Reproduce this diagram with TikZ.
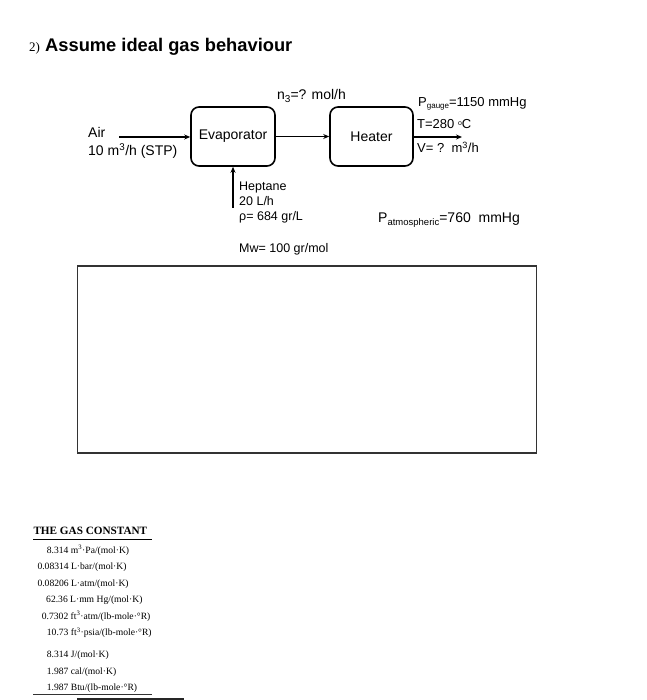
\documentclass[tikz,border=0pt]{standalone}
\usepackage{fontspec}
\setmainfont{Liberation Sans}
\newfontfamily\serifft{Liberation Serif}
\usetikzlibrary{arrows.meta}
\newcommand\fsz[1]{\fontsize{#1}{#1}\selectfont}
\begin{document}
\begin{tikzpicture}[x=1pt,y=-1pt,
  txt/.style={anchor=base west,inner sep=0pt},
  unit/.style={draw,line width=1.6pt,rounded corners=8pt,minimum width=84pt,minimum height=59pt,inner sep=0pt,font=\fsz{14}},
  flow/.style={line width=1.4pt,-{Stealth[length=6pt,width=5pt]}},
  lab/.style={txt,font=\fsz{14}},
  rlab/.style={txt,font=\fsz{13}},
  slab/.style={txt,font=\fsz{12.5}},
  gas/.style={txt,font=\serifft\fsz{9.6}}]
\useasboundingbox (0,0) rectangle (646,700);
% title
\node[txt,font=\serifft\fsz{13}] (num) at (29,51.7) {2)};
\node[txt,font=\bfseries\fsz{18.3}] (title) at (45,51.7) {Assume ideal gas behaviour};
% units
\node[unit] (evap) at (233,136.5) {Evaporator};
\node[unit,minimum width=83pt] (heat) at (371.5,136.5) {Heater};
\coordinate (airin) at (119,137);
\coordinate (out) at (462,137);
\coordinate (hep) at (233,208);
\draw[flow] (airin) -- (airin -| evap.west);
\draw[flow] (evap) -- (heat);
\draw[flow] (heat.east |- out) -- (out);
\draw[flow] (hep) -- (hep |- evap.south);
% labels
\node[lab] (air) at (88,138) {Air};
\node[lab] (airq) at (88,156) {10 m\textsuperscript{3}/h (STP)};
\node[lab] (n3) at (277,100) {n\raisebox{-2.5pt}{\fsz{10}3}=? mol/h};
\node[rlab] (pg) at (418,106.7) {P\raisebox{-2pt}{\fsz{8}gauge}=1150 mmHg};
\node[rlab] (tt) at (417,129) {T=280 \raisebox{3.5pt}{\fsz{7}o}C};
\node[rlab] (vv) at (417,152.5) {V= ?\ \ m\textsuperscript{3}/h};
\node[slab] (hp1) at (239,191) {Heptane};
\node[slab] (hp2) at (239,206) {20 L/h};
\node[slab] (hp3) at (239,220.5) {ρ= 684 gr/L};
\node[slab] (mw) at (239,252.3) {Mw= 100 gr/mol};
\node[lab] (patm) at (378,222.7) {P\raisebox{-2.5pt}{\fsz{9.5}atmospheric}=760\ \ mmHg};
% answer box
\node[draw=black!80,line width=1.4pt,minimum width=459pt,minimum height=187pt,inner sep=0pt] (answer) at (307,359.5) {};
% gas constant table
\node[txt,font=\serifft\bfseries\fsz{11.2}] (gct) at (33.3,534) {THE GAS CONSTANT};
\coordinate (ul1) at (33,539.5);
\coordinate (ul2) at (152,539.5);
\draw[line width=1.1pt] (ul1) -- (ul2);
\node[gas] (g1) at (46.7,553.3) {8.314 m\textsuperscript{3}·Pa/(mol·K)};
\node[gas] (g2) at (37.3,569.8) {0.08314 L·bar/(mol·K)};
\node[gas] (g3) at (37.3,586.2) {0.08206 L·atm/(mol·K)};
\node[gas] (g4) at (46,602.7) {62.36 L·mm Hg/(mol·K)};
\node[gas] (g5) at (41.7,619.4) {0.7302 ft\textsuperscript{3}·atm/(lb-mole·°R)};
\node[gas] (g6) at (46.7,635.8) {10.73 ft\textsuperscript{3}·psia/(lb-mole·°R)};
\node[gas] (g7) at (46.7,657.3) {8.314 J/(mol·K)};
\node[gas] (g8) at (46.7,674) {1.987 cal/(mol·K)};
\node[gas] (g9) at (46.7,690.5) {1.987 Btu/(lb-mole·°R)};
\coordinate (bl1) at (33,694.5);
\coordinate (bl2) at (152,694.5);
\draw[line width=1.1pt,black!80] (bl1) -- (bl2);
\coordinate (bb1) at (77,699);
\coordinate (bb2) at (184,699);
\draw[line width=2.5pt,black!85] (bb1) -- (bb2);
\end{tikzpicture}
\end{document}
